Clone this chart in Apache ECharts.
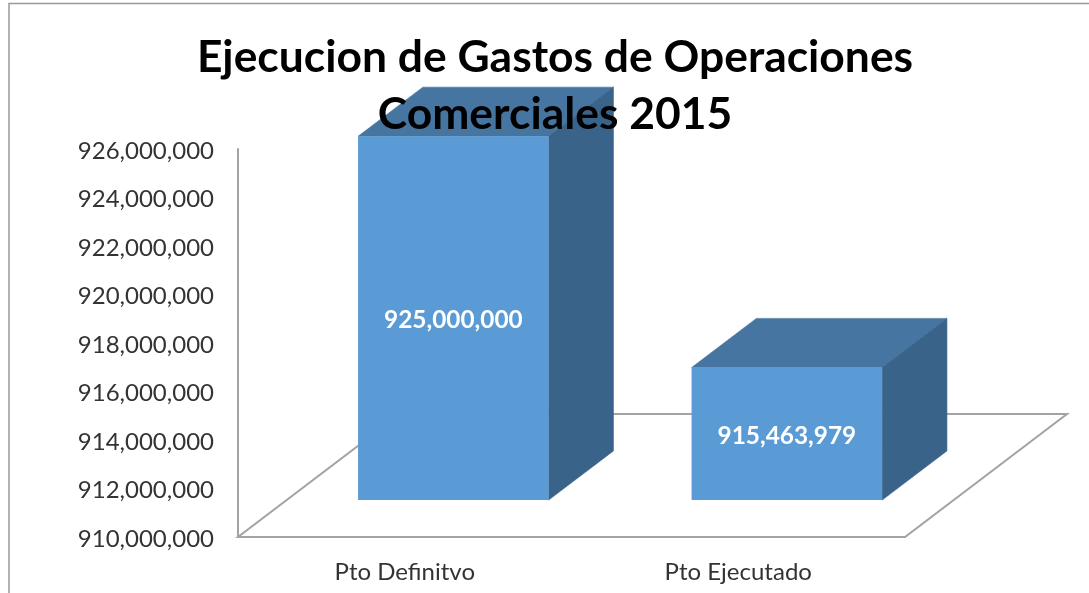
<!DOCTYPE html>
<html>
<head>
<meta charset="utf-8">
<style>html,body{margin:0;padding:0;background:#fff}#c{width:1089px;height:593px}</style>
<script src="https://cdn.jsdelivr.net/npm/echarts@6/dist/echarts.min.js"></script>
</head>
<body>
<div id="c"></div>
<script>
const titleText = 'Ejecucion de Gastos de Operaciones\nComerciales 2015';
const categories = ['Pto Definitvo', 'Pto Ejecutado'];
const values = [925000000, 915463979];
const axisMin = 910000000;
const axisMax = 926000000;
const axisStep = 2000000;

const FONT = 'Lato';
const floorDx = 162, floorDy = 123;
const frontRatio = 0.3, depthRatio = 0.4;
const barWidthRatio = 1 / 1.75;
const frontColor = '#5B9BD5', topColor = '#4575A0', sideColor = '#3A6389', lineColor = '#A3A3A3';

function renderFloor(params) {
  const g = params.coordSys;
  const l = g.x, r = g.x + g.width, b = g.y + g.height;
  return {
    type: 'polygon',
    shape: { points: [[l, b], [r, b], [r + floorDx, b - floorDy], [l + floorDx, b - floorDy]] },
    style: { fill: '#fff', stroke: lineColor, lineWidth: 2 },
    silent: true
  };
}

function renderBar(params, api) {
  const idx = api.value(0), val = api.value(1);
  const top = api.coord([idx, val]);
  const base = api.coord([idx, axisMin]);
  const w = api.size([1, 0])[0] * barWidthRatio;
  const fx = floorDx * frontRatio, fy = floorDy * frontRatio;
  const dx = floorDx * depthRatio, dy = floorDy * depthRatio;
  const x0 = top[0] - w / 2 + fx, x1 = x0 + w;
  const yT = top[1] - fy, yB = base[1] - fy;
  return {
    type: 'group',
    children: [
      { type: 'polygon', shape: { points: [[x0, yT], [x1, yT], [x1 + dx, yT - dy], [x0 + dx, yT - dy]] }, style: { fill: topColor, stroke: topColor, lineWidth: 0.6 } },
      { type: 'polygon', shape: { points: [[x1, yT], [x1 + dx, yT - dy], [x1 + dx, yB - dy], [x1, yB]] }, style: { fill: sideColor, stroke: sideColor, lineWidth: 0.6 } },
      { type: 'rect', shape: { x: x0, y: yT, width: w, height: yB - yT }, style: { fill: frontColor } },
      { type: 'text', x: (x0 + x1) / 2, y: (yT + yB) / 2 + 2,
        style: { text: echarts.format.addCommas(val), fill: '#fff', font: 'bold 24.4px ' + FONT, align: 'center', verticalAlign: 'middle' } }
    ]
  };
}

const chart = echarts.init(document.getElementById('c'), null, { renderer: 'canvas' });
chart.setOption({
  animation: false,
  backgroundColor: '#fff',
  title: {
    text: titleText, left: 550, top: 24, textAlign: 'center', z: 20,
    textStyle: { fontFamily: FONT, fontWeight: 'bold', fontSize: 44.4, lineHeight: 57, color: '#000' }
  },
  graphic: [{
    type: 'polyline', silent: true,
    shape: { points: [[9, 593], [9, 3.5], [1089, 3.5]] },
    style: { fill: 'none', stroke: '#999', lineWidth: 1.5 }
  }],
  grid: { left: 238, right: 184, top: 149, bottom: 56 },
  xAxis: {
    type: 'category', data: categories,
    axisLine: { lineStyle: { color: lineColor, width: 2 } },
    axisTick: { show: false },
    axisLabel: { color: '#333', fontFamily: FONT, fontSize: 24, margin: 23 }
  },
  yAxis: {
    type: 'value', min: axisMin, max: axisMax, interval: axisStep,
    axisLine: { show: true, lineStyle: { color: lineColor, width: 2 } },
    axisTick: { show: false },
    splitLine: { show: false },
    axisLabel: {
      color: '#333', fontFamily: FONT, fontSize: 24, margin: 24,
      formatter: v => '{n|' + echarts.format.addCommas(v) + '}',
      rich: { n: { color: '#333', fontFamily: FONT, fontSize: 24, padding: [4, 0, 0, 0] } }
    }
  },
  series: [
    { type: 'custom', name: 'Piso', coordinateSystem: 'cartesian2d', z: 1, silent: true, renderItem: renderFloor, data: [[0, axisMin]] },
    { type: 'custom', name: 'Ejecucion', coordinateSystem: 'cartesian2d', z: 3, renderItem: renderBar,
      encode: { x: 0, y: 1 }, data: values.map((v, i) => [i, v]) }
  ]
});
</script>
</body>
</html>
